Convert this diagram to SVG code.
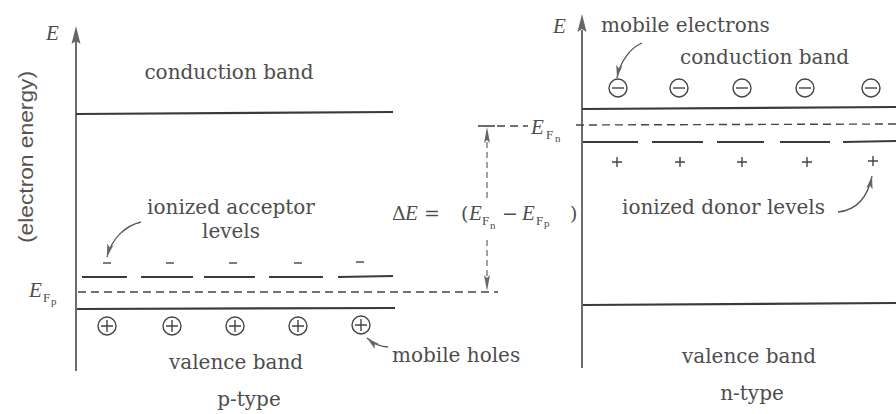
<svg xmlns="http://www.w3.org/2000/svg" width="896" height="414" viewBox="0 0 896 414">
<style>
.t{font-family:"DejaVu Serif","Liberation Serif",serif;font-size:20px;fill:#4d4d4d}
.s{font-family:"Liberation Sans","DejaVu Sans",sans-serif;font-size:21px;fill:#555}
.e{font-family:"Liberation Serif","DejaVu Serif",serif;font-style:italic;font-size:21px;fill:#4d4d4d}
.sub{font-family:"Liberation Serif","DejaVu Serif",serif;font-size:13px;fill:#4d4d4d}
.sub2{font-family:"Liberation Serif","DejaVu Serif",serif;font-size:11px;fill:#4d4d4d}
.m{font-family:"DejaVu Serif","Liberation Serif",serif;font-size:19px;fill:#4d4d4d}
.band{stroke:#3a3a3a;stroke-width:2.2;fill:none}
.ax{stroke:#3a3a3a;stroke-width:1.5;fill:none}
.fermi{stroke:#444;stroke-width:1.4;stroke-dasharray:8 5;fill:none}
.lvl{stroke:#3a3a3a;stroke-width:2;fill:none}
.sign{stroke:#444;stroke-width:1.4;fill:none}
.cir{stroke:#444;stroke-width:1.4;fill:#fff}
.lead{stroke:#555;stroke-width:1.3;fill:none}
.head{fill:#666}
</style>
<defs>
<marker id="ah" markerWidth="14" markerHeight="8" refX="13" refY="4" orient="auto" markerUnits="userSpaceOnUse"><path d="M0,0.8 L13,4 L0,7.2 L3,4 Z" fill="#666"/></marker>
</defs>
<rect width="896" height="414" fill="#fff"/>

<g id="p-type">
  <line class="ax" x1="76" y1="40" x2="76" y2="371"/>
  <path class="head" d="M76,26 L80.5,44 L76,41 L71.5,44 Z"/>
  <text class="e" x="46" y="40">E</text>
  <text class="s" transform="translate(33,157) rotate(-90)" text-anchor="middle" textLength="172" lengthAdjust="spacingAndGlyphs">(electron energy)</text>
  <line class="band" x1="76" y1="114" x2="393" y2="112"/>
  <text class="t" x="229" y="79" text-anchor="middle">conduction band</text>
  <text class="t" x="231" y="214" text-anchor="middle">ionized acceptor</text>
  <text class="t" x="231" y="238" text-anchor="middle">levels</text>
  <g id="acceptor-levels">
    <line class="lvl" x1="82" y1="277" x2="127" y2="277"/>
    <line class="lvl" x1="141" y1="277" x2="193" y2="277"/>
    <line class="lvl" x1="204" y1="277" x2="255" y2="277"/>
    <line class="lvl" x1="269" y1="277" x2="323" y2="277"/>
    <line class="lvl" x1="338" y1="277" x2="393" y2="276"/>
    <line class="sign" x1="103" y1="263" x2="111" y2="263"/>
    <line class="sign" x1="166" y1="263" x2="174" y2="263"/>
    <line class="sign" x1="229" y1="263" x2="237" y2="263"/>
    <line class="sign" x1="294" y1="263" x2="302" y2="263"/>
    <line class="sign" x1="356" y1="262" x2="364" y2="262"/>
  </g>
  <line class="fermi" x1="78" y1="292" x2="498" y2="292"/>
  <text class="e" x="29" y="297">E</text>
  <text class="sub" x="43" y="302">F</text>
  <text class="sub2" x="51" y="305">p</text>
  <line class="band" x1="77" y1="309" x2="395" y2="308"/>
  <g id="holes">
    <circle class="cir" cx="107" cy="326" r="9"/><path class="sign" d="M101,326 H113 M107,320 V332"/>
    <circle class="cir" cx="172" cy="326" r="9"/><path class="sign" d="M166,326 H178 M172,320 V332"/>
    <circle class="cir" cx="235" cy="326" r="9"/><path class="sign" d="M229,326 H241 M235,320 V332"/>
    <circle class="cir" cx="298" cy="326" r="9"/><path class="sign" d="M292,326 H304 M298,320 V332"/>
    <circle class="cir" cx="361" cy="325" r="9"/><path class="sign" d="M355,325 H367 M361,319 V331"/>
  </g>
  <text class="t" x="236" y="369" text-anchor="middle">valence band</text>
  <text class="t" x="249" y="406" text-anchor="middle">p-type</text>
  <text class="t" x="392" y="362">mobile holes</text>
</g>

<g id="n-type">
  <line class="ax" x1="582" y1="30" x2="582" y2="368"/>
  <path class="head" d="M582,14 L586.5,32 L582,29 L577.5,32 Z"/>
  <text class="e" x="553" y="33">E</text>
  <text class="t" x="601" y="32">mobile electrons</text>
  <text class="t" x="680" y="64">conduction band</text>
  <g id="electrons">
    <circle class="cir" cx="618" cy="88" r="9"/><line class="sign" x1="612" y1="88" x2="624" y2="88"/>
    <circle class="cir" cx="679" cy="88" r="9"/><line class="sign" x1="673" y1="88" x2="685" y2="88"/>
    <circle class="cir" cx="742" cy="88" r="9"/><line class="sign" x1="736" y1="88" x2="748" y2="88"/>
    <circle class="cir" cx="805" cy="88" r="9"/><line class="sign" x1="799" y1="88" x2="811" y2="88"/>
    <circle class="cir" cx="871" cy="88" r="9"/><line class="sign" x1="865" y1="88" x2="877" y2="88"/>
  </g>
  <line class="band" x1="582" y1="109" x2="896" y2="107"/>
  <line class="fermi" x1="576" y1="125" x2="896" y2="124"/>
  <g id="donor-levels">
    <line class="lvl" x1="583" y1="142" x2="638" y2="142"/>
    <line class="lvl" x1="652" y1="142" x2="703" y2="142"/>
    <line class="lvl" x1="717" y1="142" x2="764" y2="142"/>
    <line class="lvl" x1="780" y1="142" x2="830" y2="142"/>
    <line class="lvl" x1="843" y1="142" x2="896" y2="141"/>
    <path class="sign" d="M612,162 H622 M617,157 V167"/>
    <path class="sign" d="M675,162 H685 M680,157 V167"/>
    <path class="sign" d="M737,162 H747 M742,157 V167"/>
    <path class="sign" d="M802,162 H812 M807,157 V167"/>
    <path class="sign" d="M868,161 H878 M873,156 V166"/>
  </g>
  <text class="t" x="622" y="214">ionized donor levels</text>
  <line class="band" x1="583" y1="305" x2="896" y2="303"/>
  <text class="t" x="749" y="363" text-anchor="middle">valence band</text>
  <text class="t" x="752" y="400" text-anchor="middle">n-type</text>
  <text class="e" x="531" y="134">E</text>
  <text class="sub" x="546" y="139">F</text>
  <text class="sub2" x="555" y="142">n</text>
</g>

<g id="delta-e">
  <line class="ax" x1="478" y1="126" x2="495" y2="126"/>
  <line class="fermi" x1="497" y1="126" x2="528" y2="126"/>
  <path class="head" d="M487,127 L490,143 L487,140 L484,143 Z"/>
  <line x1="487" y1="142" x2="487" y2="198" stroke="#555" stroke-width="1.1" stroke-dasharray="6 4"/>
  <line x1="487" y1="240" x2="487" y2="276" stroke="#555" stroke-width="1.1" stroke-dasharray="6 4"/>
  <path class="head" d="M487,291 L490,275 L487,278 L484,275 Z"/>
  <text class="m" x="392" y="220">Δ</text>
  <text class="e" x="405" y="220">E</text>
  <text class="m" x="424" y="220">=</text>
  <text class="m" x="461" y="220">(</text>
  <text class="e" x="469" y="220">E</text>
  <text class="sub" x="482" y="225">F</text>
  <text class="sub2" x="490" y="229">n</text>
  <text class="m" x="502" y="220">−</text>
  <text class="e" x="522" y="220">E</text>
  <text class="sub" x="536" y="225">F</text>
  <text class="sub2" x="544" y="227">p</text>
  <text class="m" x="570" y="220">)</text>
</g>

<g id="connectors">
  <path class="lead" d="M141,222 C125,226 112,238 107,257" marker-end="url(#ah)"/>
  <path class="lead" d="M388,347 C380,347 374,344 367,338" marker-end="url(#ah)"/>
  <path class="lead" d="M642,43 C630,48 620,62 617,78" marker-end="url(#ah)"/>
  <path class="lead" d="M838,212 C858,210 868,196 872,176" marker-end="url(#ah)"/>
</g>
</svg>
